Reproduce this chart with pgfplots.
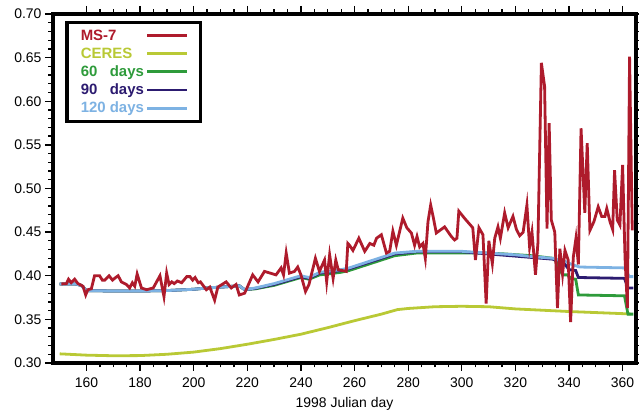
\documentclass[border=0pt]{standalone}
\usepackage{fontspec}
\setmainfont{Liberation Sans}
\usepackage{pgfplots}
\pgfplotsset{compat=1.18}

\definecolor{msred}{HTML}{AE1B2C}
\definecolor{ceres}{HTML}{B9C935}
\definecolor{d60}{HTML}{2E9B3B}
\definecolor{d90}{HTML}{2C1B70}
\definecolor{d120}{HTML}{7DB2E3}

\begin{document}
\begin{tikzpicture}
\path[use as bounding box] (-53bp,-55bp) rectangle (586bp,363bp);
\begin{axis}[
    at={(0,0)}, anchor=south west,
    scale only axis,
    width=583bp, height=349bp,
    xmin=147.5, xmax=365,
    ymin=0.30, ymax=0.70,
    xtick={160,180,...,360},
    ytick={0.30,0.35,...,0.71},
    minor x tick num=3,
    minor y tick num=4,
    tick align=outside,
    major tick length=8bp,
    minor tick length=4.5bp,
    tick style={black, line width=1.3bp},
    axis line style={line width=3.2bp},
    /pgf/number format/assume math mode=true,
    yticklabel style={/pgf/number format/.cd, fixed, fixed zerofill, precision=2},
    xticklabel style={yshift=-3bp},
    tick label style={font=\fontsize{14}{16}\selectfont},
    label style={font=\fontsize{14}{16}\selectfont},
    xlabel={1998 Julian day},
    xlabel style={yshift=-3bp},
    legend plot pos=right,
    legend cell align=left,
    legend image code/.code={\draw[#1] (0bp,0bp) -- (40bp,0bp);},
    legend style={at={(0.0206,0.98)}, anchor=north west, draw=black,
        line width=3.5bp, font=\fontsize{15}{17}\selectfont\bfseries,
        inner xsep=12bp, inner ysep=5bp, row sep=2bp},
]

\addlegendimage{msred, line width=2.8bp}
\addlegendentry{\textcolor{msred}{MS-7}}
\addlegendimage{ceres, line width=2.8bp}
\addlegendentry{\textcolor{ceres}{CERES}}
\addlegendimage{d60, line width=2.8bp}
\addlegendentry{\textcolor{d60}{60\phantom{0} days}}
\addlegendimage{d90, line width=2.8bp}
\addlegendentry{\textcolor{d90}{90\phantom{0} days}}
\addlegendimage{d120, line width=2.8bp}
\addlegendentry{\textcolor{d120}{120 days}}

% CERES
\addplot[ceres, line width=2.8bp, forget plot] coordinates {
(150,0.3105)(160,0.3090)(170,0.3083)(180,0.3085)(190,0.3100)(200,0.3125)
(210,0.3165)(220,0.3215)(230,0.3270)(240,0.3330)(250,0.3405)(260,0.3485)
(270,0.3560)(276,0.3612)(280,0.3625)(290,0.3645)(300,0.3650)(310,0.3645)
(320,0.3620)(330,0.3605)(340,0.3590)(350,0.3578)(363,0.3562)
};

% 60 days
\addplot[d60, line width=2.8bp, forget plot] coordinates {
(150,0.3905)(156,0.3905)(158,0.389)(160,0.383)(170,0.3825)(180,0.3825)
(190,0.383)(200,0.3845)(205,0.386)(215,0.388)(217,0.3885)(219,0.384)
(223,0.385)(230,0.389)(240,0.398)(243,0.396)(247,0.401)(250,0.402)
(255,0.404)(258,0.406)(262,0.410)(270,0.418)(275,0.423)(283,0.426)
(302,0.426)(310,0.426)(316,0.425)(326,0.423)(334,0.420)(335,0.417)
(336.4,0.409)(337.6,0.401)(339.5,0.401)(340.7,0.397)(342.5,0.396)
(343.5,0.378)(360.7,0.377)(362,0.356)(364,0.356)
};

% 90 days
\addplot[d90, line width=2.8bp, forget plot] coordinates {
(150,0.3905)(156,0.3905)(158,0.389)(160,0.383)(170,0.3825)(180,0.3825)
(190,0.383)(200,0.3845)(205,0.386)(215,0.388)(217,0.3885)(219,0.384)
(223,0.3855)(230,0.390)(240,0.399)(243,0.397)(247,0.403)(250,0.404)
(255,0.406)(258,0.408)(262,0.412)(270,0.420)(275,0.425)(283,0.4275)
(300,0.4275)(310,0.425)(320,0.4225)(326,0.421)(334,0.419)(335,0.418)
(337.5,0.417)(340,0.407)(342.5,0.406)(343.5,0.398)(360.7,0.397)
(362,0.386)(364,0.386)
};

% 120 days
\addplot[d120, line width=2.8bp, forget plot] coordinates {
(150,0.3905)(156,0.3905)(158,0.389)(160,0.383)(170,0.3825)(180,0.3825)
(190,0.383)(200,0.3845)(205,0.386)(215,0.388)(217,0.3885)(219,0.384)
(223,0.386)(230,0.391)(240,0.400)(243,0.398)(247,0.404)(250,0.405)
(255,0.407)(258,0.409)(262,0.413)(270,0.421)(275,0.426)(283,0.428)
(300,0.428)(310,0.426)(320,0.424)(326,0.422)(334,0.420)(337,0.417)
(339,0.416)(341,0.413)(344,0.410)(360.7,0.409)(362.5,0.399)(364,0.399)
};

% MS-7
\addplot[msred, line width=2.8bp, forget plot] coordinates {
(150.6,0.3906)(152.5,0.391)(153.3,0.396)(154.3,0.392)(155.6,0.396)(156.8,0.391)
(158.7,0.388)(159.7,0.378)(160.5,0.384)(161.8,0.385)(163,0.400)(164.9,0.400)
(165.9,0.395)(166.8,0.395)(168.4,0.400)(169.7,0.395)(170.9,0.398)(171.8,0.400)
(173,0.393)(174.9,0.390)(176.1,0.386)(177.1,0.392)(178,0.388)(178.9,0.402)
(180.5,0.386)(182.4,0.384)(184.9,0.386)(187.4,0.400)(188.9,0.376)(189.9,0.403)
(190.8,0.390)(191.8,0.393)(192.7,0.391)(193.9,0.394)(195.5,0.392)(197.4,0.399)
(198.6,0.399)(199.6,0.395)(200.5,0.398)(201.7,0.392)(202.5,0.393)(204.7,0.384)
(206,0.387)(207.8,0.372)(209,0.387)(212.1,0.393)(214,0.386)(215.8,0.390)
(217,0.378)(219,0.380)(222,0.401)(224,0.393)(226.4,0.405)(230.7,0.401)
(232.6,0.409)(233.5,0.401)(234.5,0.426)(235.7,0.403)(237.6,0.405)(238.8,0.410)
(240,0.401)(241.7,0.382)(243,0.390)(245.4,0.420)(246.9,0.405)(248.8,0.418)
(249.6,0.393)(250.7,0.424)(252,0.397)(253,0.418)(253.9,0.407)(256.9,0.405)
(257.5,0.437)(258.1,0.435)(259.4,0.429)(261.6,0.443)(263.8,0.428)(265.7,0.437)
(267.2,0.435)(268.2,0.443)(270,0.447)(271.9,0.426)(273.1,0.428)(274.3,0.451)
(275.6,0.435)(278,0.466)(279.5,0.455)(281.2,0.449)(282.4,0.435)(283.3,0.445)
(284.3,0.433)(285.5,0.437)(286.4,0.420)(287.4,0.462)(288.4,0.481)(289.3,0.468)
(290.5,0.449)(293.6,0.456)(296.1,0.445)(297.3,0.441)(298.2,0.443)(298.9,0.474)
(301,0.466)(304.1,0.455)(305.1,0.418)(306.4,0.455)(307.9,0.447)(309.1,0.368)
(310.1,0.440)(311.4,0.414)(312.3,0.443)(313.5,0.456)(314.4,0.443)(316,0.472)
(317.3,0.455)(319.1,0.468)(320.4,0.453)(321.6,0.446)(322.9,0.450)(324.3,0.481)
(325.3,0.433)(326.2,0.450)(327.5,0.401)(328.4,0.437)(329.7,0.644)(330.9,0.617)
(331.8,0.454)(332.6,0.575)(333.4,0.464)(334.7,0.450)(335.7,0.363)(336.6,0.431)
(337.6,0.402)(338.5,0.429)(339.7,0.418)(340.6,0.347)(341.6,0.421)(342.6,0.443)
(343.5,0.413)(344.5,0.569)(345.9,0.472)(346.8,0.552)(347.8,0.452)(349.3,0.462)
(350.9,0.479)(352.2,0.468)(353.4,0.468)(354.1,0.477)(355.3,0.462)(356.3,0.453)
(357,0.521)(358,0.464)(359,0.458)(360,0.527)(360.9,0.421)(361.8,0.363)
(362.6,0.651)(363.6,0.452)
};

\end{axis}
\end{tikzpicture}
\end{document}
